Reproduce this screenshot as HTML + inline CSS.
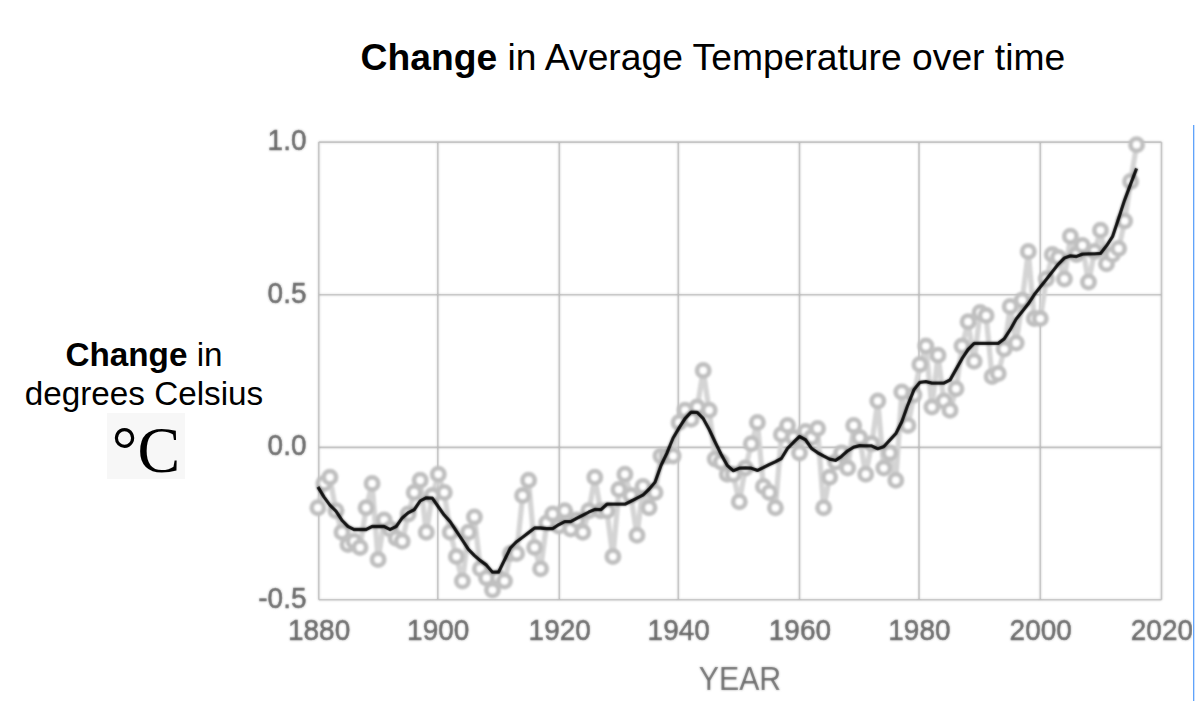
<!DOCTYPE html>
<html><head><meta charset="utf-8"><title>Change in Average Temperature over time</title>
<style>
html,body{margin:0;padding:0;background:#fff;}
body{width:1199px;height:701px;position:relative;overflow:hidden;font-family:"Liberation Sans",sans-serif;color:#000;}
.title{position:absolute;left:360.6px;top:35.5px;font-size:37.25px;line-height:43px;white-space:nowrap;}
.ylab{position:absolute;left:0;width:288px;text-align:center;font-size:33.25px;line-height:39px;white-space:nowrap;}
.degbox{position:absolute;left:107px;top:413px;width:78px;height:66px;background:#f7f7f7;}
.deg{position:absolute;left:107px;top:417.6px;width:78px;height:66px;text-align:center;font-family:"Liberation Serif",serif;font-size:64px;line-height:66px;transform:scaleY(1.04);transform-origin:50% 100%;}
.blue{position:absolute;left:1193px;top:125px;width:1px;height:580px;background:#60a3fb;}.blue2{position:absolute;left:1194px;top:125px;width:1px;height:580px;background:#cbe1fd;}
svg{position:absolute;left:0;top:0;}

.chart text{font-family:"Liberation Sans",sans-serif;font-size:29px;fill:#666;stroke:#666;stroke-width:0.5px;}
</style></head>
<body>
<div class="title"><b>Change</b> in Average Temperature over time</div>
<div class="ylab" style="top:335px"><b>Change</b> in</div>
<div class="ylab" style="top:374px">degrees Celsius</div>
<div class="degbox"></div>
<div class="deg">°C</div>
<svg class="chart" width="1192" height="701" viewBox="0 0 1192 701">
<defs>
<filter id="bl" filterUnits="userSpaceOnUse" x="0" y="0" width="1199" height="701"><feGaussianBlur stdDeviation="1"/></filter>
<filter id="bm" filterUnits="userSpaceOnUse" x="0" y="0" width="1199" height="701" color-interpolation-filters="sRGB"><feGaussianBlur stdDeviation="1" result="b"/><feComposite in="SourceGraphic" in2="b" operator="arithmetic" k1="0" k2="0.45" k3="0.55" k4="0"/></filter>
</defs>
<g filter="url(#bm)" stroke="#b2b2b2" stroke-width="1.6" fill="none">
<line x1="318.75" y1="142.1" x2="318.75" y2="599.7"/>
<line x1="437.8" y1="142.1" x2="437.8" y2="599.7"/>
<line x1="559.3" y1="142.1" x2="559.3" y2="599.7"/>
<line x1="678.3" y1="142.1" x2="678.3" y2="599.7"/>
<line x1="799.5" y1="142.1" x2="799.5" y2="599.7"/>
<line x1="919.0" y1="142.1" x2="919.0" y2="599.7"/>
<line x1="1040.3" y1="142.1" x2="1040.3" y2="599.7"/>
<line x1="1161.5" y1="142.1" x2="1161.5" y2="599.7"/>
<line x1="318.75" y1="142.1" x2="1161.5" y2="142.1"/>
<line x1="318.75" y1="294.8" x2="1161.5" y2="294.8"/>
<line x1="318.75" y1="447.4" x2="1161.5" y2="447.4"/>
<line x1="318.75" y1="599.7" x2="1161.5" y2="599.7"/>
</g>
<g filter="url(#bl)"><polyline points="317.9,508.2 323.9,483.8 329.9,477.7 336.0,511.2 342.0,532.6 348.0,544.8 354.0,541.7 360.0,547.8 366.1,508.2 372.1,483.8 378.1,560.0 384.1,520.4 390.1,529.5 396.2,538.7 402.2,541.7 408.2,514.3 414.2,492.9 420.2,480.7 426.3,532.6 432.3,496.0 438.3,474.6 444.3,492.9 450.3,532.6 456.4,557.0 462.4,581.4 468.4,532.6 474.4,517.3 480.4,569.2 486.5,578.3 492.5,590.5 498.5,578.3 504.5,581.4 510.5,553.9 516.6,553.9 522.6,496.0 528.6,480.7 534.6,547.8 540.6,569.2 546.7,523.4 552.7,514.3 558.7,526.5 564.7,511.2 570.7,529.5 576.8,520.4 582.8,532.6 588.8,511.2 594.8,477.7 600.8,511.2 606.9,511.2 612.9,557.0 618.9,489.9 624.9,474.6 630.9,496.0 637.0,535.6 643.0,486.8 649.0,508.2 655.0,492.9 661.0,456.3 667.1,456.3 673.1,456.3 679.1,422.8 685.1,410.6 691.1,419.7 697.2,407.5 703.2,370.9 709.2,410.6 715.2,459.4 721.2,462.4 727.3,474.6 733.3,474.6 739.3,502.1 745.3,468.5 751.3,444.1 757.4,422.8 763.4,486.8 769.4,492.9 775.4,508.2 781.4,435.0 787.5,425.8 793.5,438.0 799.5,453.3 805.5,431.9 811.5,438.0 817.6,428.9 823.6,508.2 829.6,477.7 835.6,462.4 841.6,453.3 847.7,468.5 853.7,425.8 859.7,438.0 865.7,474.6 871.7,444.1 877.8,401.4 883.8,468.5 889.8,453.3 895.8,480.7 901.8,392.3 907.9,425.8 913.9,395.3 919.9,364.8 925.9,346.5 931.9,407.5 938.0,355.6 944.0,401.4 950.0,410.6 956.0,389.2 962.0,346.5 968.1,322.1 974.1,361.7 980.1,312.9 986.1,316.0 992.1,377.0 998.2,374.0 1004.2,349.5 1010.2,306.8 1016.2,343.4 1022.2,300.7 1028.3,251.9 1034.3,319.0 1040.3,319.0 1046.3,279.4 1052.3,255.0 1058.4,258.0 1064.4,279.4 1070.4,236.7 1076.4,255.0 1082.4,245.8 1088.5,282.4 1094.5,251.9 1100.5,230.6 1106.5,264.1 1112.5,255.0 1118.6,248.9 1124.6,221.4 1130.6,181.8 1136.6,145.2" fill="none" stroke="#d4d4d4" stroke-width="5.2" stroke-linejoin="round"/>
<g fill="#fff" stroke="#c0c0c0" stroke-width="4.8">
<circle cx="317.9" cy="507.8" r="6.1"/>
<circle cx="323.9" cy="483.4" r="6.1"/>
<circle cx="329.9" cy="477.3" r="6.1"/>
<circle cx="336.0" cy="510.8" r="6.1"/>
<circle cx="342.0" cy="532.2" r="6.1"/>
<circle cx="348.0" cy="544.4" r="6.1"/>
<circle cx="354.0" cy="541.3" r="6.1"/>
<circle cx="360.0" cy="547.4" r="6.1"/>
<circle cx="366.1" cy="507.8" r="6.1"/>
<circle cx="372.1" cy="483.4" r="6.1"/>
<circle cx="378.1" cy="559.6" r="6.1"/>
<circle cx="384.1" cy="520.0" r="6.1"/>
<circle cx="390.1" cy="529.1" r="6.1"/>
<circle cx="396.2" cy="538.3" r="6.1"/>
<circle cx="402.2" cy="541.3" r="6.1"/>
<circle cx="408.2" cy="513.9" r="6.1"/>
<circle cx="414.2" cy="492.5" r="6.1"/>
<circle cx="420.2" cy="480.3" r="6.1"/>
<circle cx="426.3" cy="532.2" r="6.1"/>
<circle cx="432.3" cy="495.6" r="6.1"/>
<circle cx="438.3" cy="474.2" r="6.1"/>
<circle cx="444.3" cy="492.5" r="6.1"/>
<circle cx="450.3" cy="532.2" r="6.1"/>
<circle cx="456.4" cy="556.6" r="6.1"/>
<circle cx="462.4" cy="581.0" r="6.1"/>
<circle cx="468.4" cy="532.2" r="6.1"/>
<circle cx="474.4" cy="516.9" r="6.1"/>
<circle cx="480.4" cy="568.8" r="6.1"/>
<circle cx="486.5" cy="577.9" r="6.1"/>
<circle cx="492.5" cy="590.1" r="6.1"/>
<circle cx="498.5" cy="577.9" r="6.1"/>
<circle cx="504.5" cy="581.0" r="6.1"/>
<circle cx="510.5" cy="553.5" r="6.1"/>
<circle cx="516.6" cy="553.5" r="6.1"/>
<circle cx="522.6" cy="495.6" r="6.1"/>
<circle cx="528.6" cy="480.3" r="6.1"/>
<circle cx="534.6" cy="547.4" r="6.1"/>
<circle cx="540.6" cy="568.8" r="6.1"/>
<circle cx="546.7" cy="523.0" r="6.1"/>
<circle cx="552.7" cy="513.9" r="6.1"/>
<circle cx="558.7" cy="526.1" r="6.1"/>
<circle cx="564.7" cy="510.8" r="6.1"/>
<circle cx="570.7" cy="529.1" r="6.1"/>
<circle cx="576.8" cy="520.0" r="6.1"/>
<circle cx="582.8" cy="532.2" r="6.1"/>
<circle cx="588.8" cy="510.8" r="6.1"/>
<circle cx="594.8" cy="477.3" r="6.1"/>
<circle cx="600.8" cy="510.8" r="6.1"/>
<circle cx="606.9" cy="510.8" r="6.1"/>
<circle cx="612.9" cy="556.6" r="6.1"/>
<circle cx="618.9" cy="489.5" r="6.1"/>
<circle cx="624.9" cy="474.2" r="6.1"/>
<circle cx="630.9" cy="495.6" r="6.1"/>
<circle cx="637.0" cy="535.2" r="6.1"/>
<circle cx="643.0" cy="486.4" r="6.1"/>
<circle cx="649.0" cy="507.8" r="6.1"/>
<circle cx="655.0" cy="492.5" r="6.1"/>
<circle cx="661.0" cy="455.9" r="6.1"/>
<circle cx="667.1" cy="455.9" r="6.1"/>
<circle cx="673.1" cy="455.9" r="6.1"/>
<circle cx="679.1" cy="422.4" r="6.1"/>
<circle cx="685.1" cy="410.2" r="6.1"/>
<circle cx="691.1" cy="419.3" r="6.1"/>
<circle cx="697.2" cy="407.1" r="6.1"/>
<circle cx="703.2" cy="370.5" r="6.1"/>
<circle cx="709.2" cy="410.2" r="6.1"/>
<circle cx="715.2" cy="459.0" r="6.1"/>
<circle cx="721.2" cy="462.0" r="6.1"/>
<circle cx="727.3" cy="474.2" r="6.1"/>
<circle cx="733.3" cy="474.2" r="6.1"/>
<circle cx="739.3" cy="501.7" r="6.1"/>
<circle cx="745.3" cy="468.1" r="6.1"/>
<circle cx="751.3" cy="443.7" r="6.1"/>
<circle cx="757.4" cy="422.4" r="6.1"/>
<circle cx="763.4" cy="486.4" r="6.1"/>
<circle cx="769.4" cy="492.5" r="6.1"/>
<circle cx="775.4" cy="507.8" r="6.1"/>
<circle cx="781.4" cy="434.6" r="6.1"/>
<circle cx="787.5" cy="425.4" r="6.1"/>
<circle cx="793.5" cy="437.6" r="6.1"/>
<circle cx="799.5" cy="452.9" r="6.1"/>
<circle cx="805.5" cy="431.5" r="6.1"/>
<circle cx="811.5" cy="437.6" r="6.1"/>
<circle cx="817.6" cy="428.5" r="6.1"/>
<circle cx="823.6" cy="507.8" r="6.1"/>
<circle cx="829.6" cy="477.3" r="6.1"/>
<circle cx="835.6" cy="462.0" r="6.1"/>
<circle cx="841.6" cy="452.9" r="6.1"/>
<circle cx="847.7" cy="468.1" r="6.1"/>
<circle cx="853.7" cy="425.4" r="6.1"/>
<circle cx="859.7" cy="437.6" r="6.1"/>
<circle cx="865.7" cy="474.2" r="6.1"/>
<circle cx="871.7" cy="443.7" r="6.1"/>
<circle cx="877.8" cy="401.0" r="6.1"/>
<circle cx="883.8" cy="468.1" r="6.1"/>
<circle cx="889.8" cy="452.9" r="6.1"/>
<circle cx="895.8" cy="480.3" r="6.1"/>
<circle cx="901.8" cy="391.9" r="6.1"/>
<circle cx="907.9" cy="425.4" r="6.1"/>
<circle cx="913.9" cy="394.9" r="6.1"/>
<circle cx="919.9" cy="364.4" r="6.1"/>
<circle cx="925.9" cy="346.1" r="6.1"/>
<circle cx="931.9" cy="407.1" r="6.1"/>
<circle cx="938.0" cy="355.2" r="6.1"/>
<circle cx="944.0" cy="401.0" r="6.1"/>
<circle cx="950.0" cy="410.2" r="6.1"/>
<circle cx="956.0" cy="388.8" r="6.1"/>
<circle cx="962.0" cy="346.1" r="6.1"/>
<circle cx="968.1" cy="321.7" r="6.1"/>
<circle cx="974.1" cy="361.3" r="6.1"/>
<circle cx="980.1" cy="312.5" r="6.1"/>
<circle cx="986.1" cy="315.6" r="6.1"/>
<circle cx="992.1" cy="376.6" r="6.1"/>
<circle cx="998.2" cy="373.6" r="6.1"/>
<circle cx="1004.2" cy="349.1" r="6.1"/>
<circle cx="1010.2" cy="306.4" r="6.1"/>
<circle cx="1016.2" cy="343.0" r="6.1"/>
<circle cx="1022.2" cy="300.3" r="6.1"/>
<circle cx="1028.3" cy="251.5" r="6.1"/>
<circle cx="1034.3" cy="318.6" r="6.1"/>
<circle cx="1040.3" cy="318.6" r="6.1"/>
<circle cx="1046.3" cy="279.0" r="6.1"/>
<circle cx="1052.3" cy="254.6" r="6.1"/>
<circle cx="1058.4" cy="257.6" r="6.1"/>
<circle cx="1064.4" cy="279.0" r="6.1"/>
<circle cx="1070.4" cy="236.3" r="6.1"/>
<circle cx="1076.4" cy="254.6" r="6.1"/>
<circle cx="1082.4" cy="245.4" r="6.1"/>
<circle cx="1088.5" cy="282.0" r="6.1"/>
<circle cx="1094.5" cy="251.5" r="6.1"/>
<circle cx="1100.5" cy="230.2" r="6.1"/>
<circle cx="1106.5" cy="263.7" r="6.1"/>
<circle cx="1112.5" cy="254.6" r="6.1"/>
<circle cx="1118.6" cy="248.5" r="6.1"/>
<circle cx="1124.6" cy="221.0" r="6.1"/>
<circle cx="1130.6" cy="181.4" r="6.1"/>
<circle cx="1136.6" cy="144.8" r="6.1"/>
</g></g>
<polyline filter="url(#bm)" points="317.9,486.8 323.9,496.9 329.9,505.1 336.0,511.2 342.0,520.4 348.0,526.5 354.0,529.5 360.0,529.5 366.1,529.5 372.1,526.5 378.1,526.5 384.1,526.5 390.1,529.5 396.2,526.5 402.2,517.9 408.2,512.8 414.2,509.7 420.2,500.9 426.3,497.8 432.3,498.1 438.3,506.7 444.3,515.2 450.3,521.9 456.4,531.1 462.4,540.2 468.4,549.4 474.4,555.5 480.4,560.7 486.5,565.2 492.5,572.2 498.5,572.2 504.5,560.0 510.5,547.8 516.6,541.7 522.6,537.2 528.6,532.6 534.6,528.0 540.6,528.0 546.7,528.6 552.7,528.6 558.7,524.7 564.7,521.6 570.7,521.6 576.8,518.2 582.8,515.2 588.8,512.1 594.8,509.4 600.8,509.7 606.9,504.2 612.9,504.2 618.9,504.2 624.9,504.2 630.9,501.2 637.0,498.1 643.0,495.1 649.0,489.3 655.0,482.2 661.0,465.5 667.1,452.7 673.1,438.0 679.1,427.9 685.1,418.5 691.1,412.1 697.2,412.4 703.2,418.5 709.2,429.5 715.2,442.3 721.2,454.5 727.3,465.5 733.3,470.7 739.3,468.2 745.3,467.9 751.3,468.2 757.4,470.4 763.4,467.6 769.4,464.6 775.4,461.8 781.4,458.5 787.5,448.4 793.5,442.3 799.5,436.5 805.5,439.8 811.5,448.4 817.6,452.7 823.6,456.0 829.6,459.1 835.6,460.4 841.6,456.3 847.7,450.8 853.7,447.2 859.7,445.6 865.7,445.9 871.7,445.9 877.8,448.7 883.8,446.6 889.8,440.2 895.8,433.7 901.8,421.8 907.9,404.8 913.9,389.8 919.9,382.3 925.9,381.6 931.9,383.1 938.0,383.1 944.0,383.1 950.0,380.1 956.0,369.4 962.0,358.7 968.1,349.5 974.1,343.4 980.1,343.4 986.1,343.4 992.1,343.4 998.2,343.4 1004.2,338.9 1010.2,329.7 1016.2,319.0 1022.2,311.4 1028.3,303.8 1034.3,294.6 1040.3,287.0 1046.3,279.4 1052.3,271.8 1058.4,264.1 1064.4,258.0 1070.4,255.9 1076.4,256.5 1082.4,254.1 1088.5,253.8 1094.5,253.8 1100.5,253.4 1106.5,245.8 1112.5,236.7 1118.6,218.4 1124.6,200.1 1130.6,184.2 1136.6,168.3" fill="none" stroke="#000" stroke-width="3.3" stroke-linejoin="round" stroke-linecap="butt"/>
<g filter="url(#bm)">
<text transform="translate(319.1,640.4) scale(0.965,1.02)" text-anchor="middle">1880</text>
<text transform="translate(438.2,640.4) scale(0.965,1.02)" text-anchor="middle">1900</text>
<text transform="translate(559.7,640.4) scale(0.965,1.02)" text-anchor="middle">1920</text>
<text transform="translate(678.7,640.4) scale(0.965,1.02)" text-anchor="middle">1940</text>
<text transform="translate(799.9,640.4) scale(0.965,1.02)" text-anchor="middle">1960</text>
<text transform="translate(919.4,640.4) scale(0.965,1.02)" text-anchor="middle">1980</text>
<text transform="translate(1040.7,640.4) scale(0.965,1.02)" text-anchor="middle">2000</text>
<text transform="translate(1161.9,640.4) scale(0.965,1.02)" text-anchor="middle">2020</text>
<text transform="translate(306.5,150.0) scale(0.965,1.02)" text-anchor="end">1.0</text>
<text transform="translate(306.5,302.7) scale(0.965,1.02)" text-anchor="end">0.5</text>
<text transform="translate(306.5,455.3) scale(0.965,1.02)" text-anchor="end">0.0</text>
<text transform="translate(306.5,608.4) scale(0.965,1.02)" text-anchor="end">-0.5</text>
<text transform="translate(740,690) scale(1.0,1.115)" text-anchor="middle" style="font-size:30.3px;stroke:none;fill:#6a6a6a">YEAR</text>
</g>
</svg>
<div class="blue"></div><div class="blue2"></div>
</body></html>
